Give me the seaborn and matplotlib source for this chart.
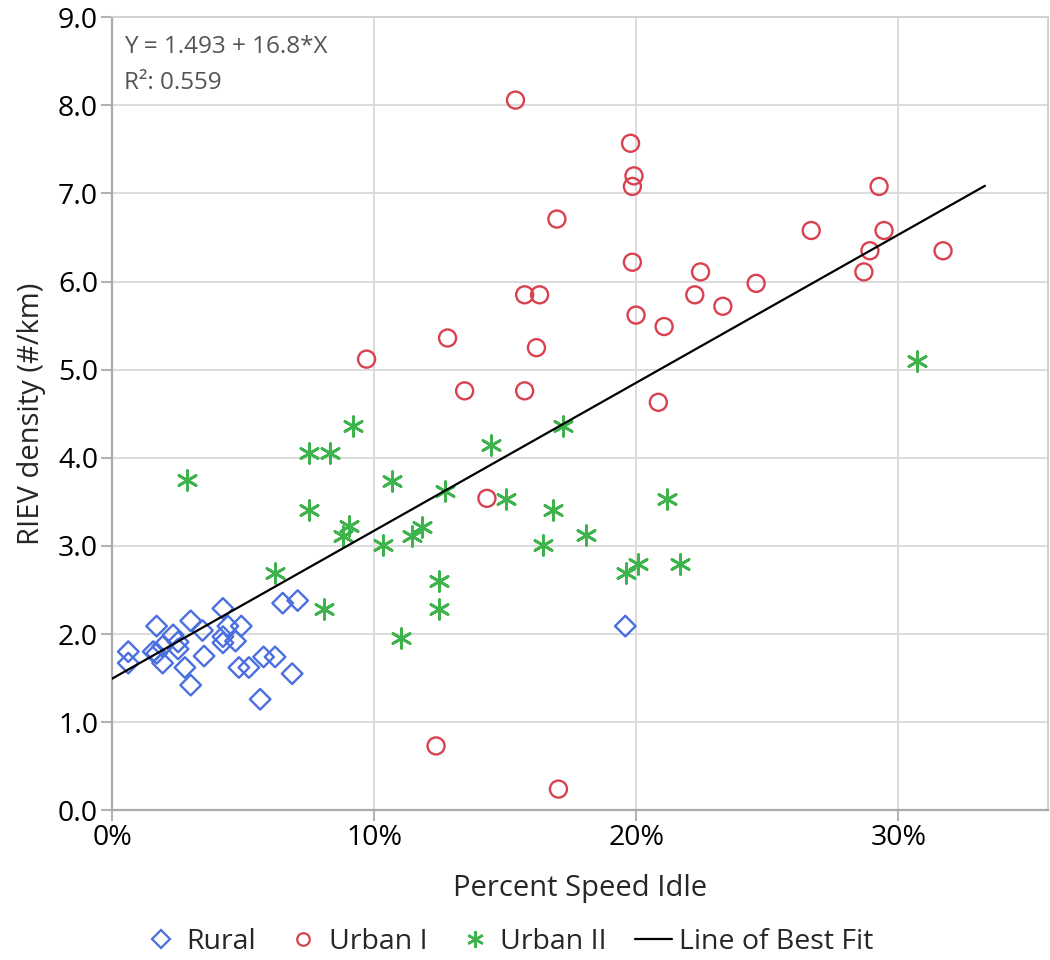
import numpy as np
import pandas as pd
import matplotlib
matplotlib.use("Agg")
import matplotlib.pyplot as plt
from matplotlib.lines import Line2D
from matplotlib.ticker import FuncFormatter
import seaborn as sns

# Percent speed idle (fraction) and RIEV density (#/km) per site group
rural_x = [0.0062, 0.0062, 0.0170, 0.0157, 0.0170, 0.0193, 0.0193, 0.0233, 0.0252,
           0.0252, 0.0300, 0.0278, 0.0300, 0.0345, 0.0351, 0.0423, 0.0442, 0.0423,
           0.0423, 0.0493, 0.0471, 0.0484, 0.0522, 0.0578, 0.0622, 0.0565, 0.0687,
           0.0651, 0.0708, 0.1958]
rural_y = [1.80, 1.67, 2.09, 1.80, 1.78, 1.67, 1.86, 1.99, 1.91,
           1.83, 2.15, 1.62, 1.42, 2.04, 1.75, 2.29, 2.09, 1.97,
           1.90, 2.09, 1.92, 1.62, 1.62, 1.74, 1.74, 1.26, 1.55,
           2.35, 2.38, 2.09]

urban1_x = [0.1539, 0.1978, 0.1991, 0.1985, 0.1697, 0.1985, 0.1574, 0.1631, 0.1999,
            0.2106, 0.1280, 0.1619, 0.0971, 0.1345, 0.1574, 0.2084, 0.2926, 0.2667,
            0.2945, 0.2891, 0.3170, 0.2868, 0.2245, 0.2223, 0.2457, 0.2330, 0.1430,
            0.1236, 0.1703]
urban1_y = [8.06, 7.57, 7.20, 7.08, 6.71, 6.22, 5.85, 5.85, 5.62,
            5.49, 5.36, 5.25, 5.12, 4.76, 4.76, 4.63, 7.08, 6.58,
            6.58, 6.35, 6.35, 6.11, 6.11, 5.85, 5.98, 5.72, 3.54,
            0.73, 0.24]

urban2_x = [0.0918, 0.0753, 0.0831, 0.1067, 0.1270, 0.0753, 0.0905, 0.0882, 0.1032,
            0.1181, 0.1146, 0.0620, 0.0810, 0.1247, 0.1247, 0.1104, 0.1444, 0.1722,
            0.1501, 0.1681, 0.1644, 0.1809, 0.2118, 0.2008, 0.1959, 0.2168, 0.0285,
            0.3072]
urban2_y = [4.36, 4.06, 4.06, 3.74, 3.62, 3.41, 3.23, 3.11, 3.01,
            3.22, 3.11, 2.69, 2.28, 2.60, 2.28, 1.96, 4.14, 4.36,
            3.53, 3.41, 3.01, 3.12, 3.53, 2.79, 2.69, 2.79, 3.75,
            5.10]

group_names = ["Rural", "Urban I", "Urban II"]

# Least-squares fit reported on the chart
fit_intercept = 1.493
fit_slope = 16.8
fit_r2 = 0.559
fit_x = [0.0, 0.333]

x_ticks = [0.0, 0.1, 0.2, 0.3]
y_ticks = [0, 1, 2, 3, 4, 5, 6, 7, 8, 9]

df = pd.DataFrame({
    "idle": rural_x + urban1_x + urban2_x,
    "riev": rural_y + urban1_y + urban2_y,
    "group": ([group_names[0]] * len(rural_x) + [group_names[1]] * len(urban1_x)
              + [group_names[2]] * len(urban2_x)),
})
fit_df = pd.DataFrame({"idle": fit_x,
                       "riev": [fit_intercept + fit_slope * v for v in fit_x]})

sns.set_theme(style="white")
plt.rcParams["font.family"] = ["Open Sans", "DejaVu Sans"]

colors = {"Rural": "#4a6fe0", "Urban I": "#d9414f", "Urban II": "#3cb44b"}
markers = {"Rural": "D", "Urban I": "o", "Urban II": (6, 2, 0)}
sizes = {"Rural": 110, "Urban I": 150, "Urban II": 200}

fig = plt.figure(figsize=(10.5, 9.6), dpi=100)
ax = fig.add_axes([0.1067, 0.156, 0.8913, 0.826])

ax.grid(True, color="#d9d9d9", linewidth=1.3, zorder=0)
ax.set_axisbelow(True)

for g in group_names:
    sub = df[df["group"] == g]
    if g == "Urban II":
        sns.scatterplot(data=sub, x="idle", y="riev", marker=markers[g], s=sizes[g],
                        color=colors[g], linewidth=2.0, ax=ax, legend=False, zorder=3)
    else:
        sns.scatterplot(data=sub, x="idle", y="riev", marker=markers[g], s=sizes[g],
                        facecolors="none", edgecolor=colors[g], linewidth=1.7,
                        ax=ax, legend=False, zorder=3)

sns.lineplot(data=fit_df, x="idle", y="riev", color="black", linewidth=1.6,
             ax=ax, legend=False, zorder=4)

ax.set_xlim(0, 0.357)
ax.set_ylim(0, 9)
ax.set_xticks(x_ticks)
ax.set_yticks(y_ticks)
ax.xaxis.set_major_formatter(FuncFormatter(lambda v, p: f"{v*100:.0f}%"))
ax.yaxis.set_major_formatter(FuncFormatter(lambda v, p: f"{v:.1f}"))
ax.tick_params(axis="both", which="major", labelsize=20.5, colors="#aaaaaa",
               labelcolor="black", length=8, width=1.3, direction="out", pad=2)
ax.tick_params(left=True, bottom=True)

for side in ["left", "bottom"]:
    ax.spines[side].set_color("#aaaaaa")
    ax.spines[side].set_linewidth(1.6)
for side in ["top", "right"]:
    ax.spines[side].set_color("#cfcfcf")
    ax.spines[side].set_linewidth(1.3)

ax.set_xlabel("Percent Speed Idle", fontsize=21, labelpad=16)
ax.set_ylabel("RIEV density (#/km)", fontsize=21, labelpad=9)

ax.text(0.013, 0.962, f"Y = {fit_intercept:.3f} + {fit_slope:.1f}*X", transform=ax.transAxes,
        fontsize=17.5, color="#555555", va="center", ha="left")
ax.text(0.013, 0.917, f"R\u00b2: {fit_r2:.3f}", transform=ax.transAxes,
        fontsize=17.5, color="#555555", va="center", ha="left")

handles = [
    Line2D([], [], linestyle="none", marker="D", markersize=9, markerfacecolor="none",
           markeredgecolor=colors["Rural"], markeredgewidth=1.6),
    Line2D([], [], linestyle="none", marker="o", markersize=9, markerfacecolor="none",
           markeredgecolor=colors["Urban I"], markeredgewidth=1.6),
    Line2D([], [], linestyle="none", marker=(6, 2, 0), markersize=12,
           color=colors["Urban II"], markeredgewidth=1.8),
    Line2D([], [], color="black", linewidth=1.6),
]
labels = group_names + ["Line of Best Fit"]
fig.legend(handles, labels, loc="center", bbox_to_anchor=(0.484, 0.019), ncol=4,
           frameon=False, fontsize=20.5, handlelength=1.3, handletextpad=0.25,
           columnspacing=1.0, borderaxespad=0)

fig.savefig("out.png", dpi=100)
